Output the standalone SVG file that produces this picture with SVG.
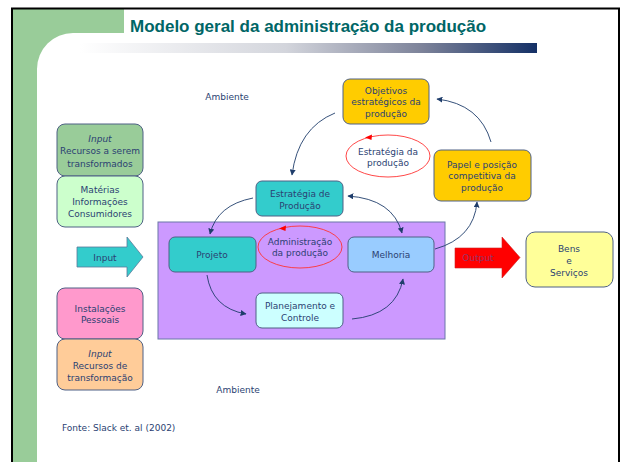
<svg xmlns="http://www.w3.org/2000/svg" width="621" height="462" viewBox="0 0 621 462">
<defs>
<linearGradient id="bar" x1="0" y1="0" x2="1" y2="0">
<stop offset="0" stop-color="#ffffff"/>
<stop offset="0.45" stop-color="#d3d5dc"/>
<stop offset="0.75" stop-color="#7c8299"/>
<stop offset="1" stop-color="#143066"/>
</linearGradient>
<marker id="ah" viewBox="0 0 10 10" refX="9" refY="5" markerWidth="6" markerHeight="6" orient="auto-start-reverse" markerUnits="userSpaceOnUse">
<path d="M0,0 L10,5 L0,10 Z" fill="#1f3d6b"/>
</marker>
<style>
.t{font-family:"DejaVu Sans","Liberation Sans",sans-serif;font-size:9px;fill:#2b3f72;text-anchor:middle}
.i{font-style:italic}
.n{stroke:#4f6185;stroke-width:1}
.c{fill:none;stroke:#1f3d6b;stroke-width:0.9}
.r{fill:none;stroke:#ff3333;stroke-width:0.9}
</style>
</defs>
<rect width="621" height="462" fill="#ffffff"/>
<g id="frame">
<path d="M13 9 H124 V33 H73 A36 36 0 0 0 37 69 V462 H13 Z" fill="#99cc99"/>
<path d="M12 462 V8.5 H619 V462" fill="none" stroke="#000" stroke-width="2"/>
<rect x="80" y="43" width="457" height="10" fill="url(#bar)"/>
<text x="130" y="32" style="font-family:'Liberation Sans',Arial,sans-serif;font-size:17px;font-weight:bold;fill:#006666">Modelo geral da administração da produção</text>
</g>
<g id="purple"><rect x="158" y="222" width="287" height="117" fill="#cc99ff" stroke="#6b77a8" stroke-width="1"/></g>
<g id="ambiente1"><text class="t" x="227" y="100">Ambiente</text></g>
<g id="ambiente2"><text class="t" x="238" y="393">Ambiente</text></g>
<g id="fonte"><text class="t" x="62" y="431" style="text-anchor:start">Fonte: Slack et. al (2002)</text></g>
<g id="input-transformados">
<rect class="n" x="57" y="124" width="86" height="52" rx="8" fill="#99cc99"/>
<text class="t i" x="100" y="141.5">Input</text>
<text class="t" x="100" y="154">Recursos a serem</text>
<text class="t" x="100" y="166.5">transformados</text>
</g>
<g id="materias">
<rect class="n" x="57" y="176" width="86" height="51" rx="8" fill="#ccffcc"/>
<text class="t" x="100" y="192.5">Matérias</text>
<text class="t" x="100" y="204.5">Informações</text>
<text class="t" x="100" y="216.5">Consumidores</text>
</g>
<g id="input-arrow">
<path d="M77 247 H127 V237 L143 257 L127 277 V267 H77 Z" fill="#33cccc" stroke="#5a7a9a" stroke-width="0.8"/>
<text class="t" x="105" y="261">Input</text>
</g>
<g id="instalacoes">
<rect class="n" x="57" y="288" width="86" height="51" rx="8" fill="#ff99cc"/>
<text class="t" x="100" y="311.5">Instalações</text>
<text class="t" x="100" y="323">Pessoais</text>
</g>
<g id="input-transformacao">
<rect class="n" x="57" y="339" width="86" height="51" rx="8" fill="#ffcc99"/>
<text class="t i" x="100" y="356.5">Input</text>
<text class="t" x="100" y="368.5">Recursos de</text>
<text class="t" x="100" y="380.5">transformação</text>
</g>
<g id="objetivos">
<rect class="n" x="343" y="79" width="86" height="45" rx="7" fill="#ffcc00"/>
<text class="t" x="386" y="93.5">Objetivos</text>
<text class="t" x="386" y="105">estratégicos da</text>
<text class="t" x="386" y="116.5">produção</text>
</g>
<g id="papel">
<rect class="n" x="434" y="150" width="97" height="51" rx="7" fill="#ffcc00"/>
<text class="t" x="482" y="167.5">Papel e posição</text>
<text class="t" x="482" y="179">competitiva da</text>
<text class="t" x="482" y="190.5">produção</text>
</g>
<g id="estrategia-producao-loop">
<ellipse class="r" cx="388" cy="156" rx="42" ry="21"/>
<path d="M365 137.5 L372 134.5 L371.5 140 Z" fill="#ff0000"/>
<text class="t" x="388" y="154.5">Estratégia da</text>
<text class="t" x="388" y="166">produção</text>
</g>
<g id="estrategia">
<rect class="n" x="256" y="181" width="87" height="35" rx="6" fill="#33cccc"/>
<text class="t" x="300" y="196.5">Estratégia de</text>
<text class="t" x="300" y="208.5">Produção</text>
</g>
<g id="projeto">
<rect class="n" x="169" y="237" width="87" height="35" rx="6" fill="#33cccc"/>
<text class="t" x="212" y="257.5">Projeto</text>
</g>
<g id="melhoria">
<rect class="n" x="348" y="237" width="86" height="35" rx="6" fill="#99ccff"/>
<text class="t" x="391" y="257.5">Melhoria</text>
</g>
<g id="planejamento">
<rect class="n" x="256" y="293" width="87" height="35" rx="6" fill="#ccffff"/>
<text class="t" x="300" y="308.5">Planejamento e</text>
<text class="t" x="300" y="320.5">Controle</text>
</g>
<g id="administracao">
<ellipse class="r" cx="300" cy="247" rx="42" ry="21"/>
<path d="M279 228.5 L286 225.5 L285.5 231 Z" fill="#ff0000"/>
<text class="t" x="300" y="244.5">Administração</text>
<text class="t" x="300" y="255.5">da produção</text>
</g>
<g id="output-arrow">
<path d="M455 248 H502 V237 L520 257.5 L502 278 V268 H455 Z" fill="#ff0000" stroke="#cc2222" stroke-width="0.6"/>
<text class="t" x="478" y="261" style="fill:#993366">Output</text>
</g>
<g id="bens">
<rect class="n" x="526" y="232" width="87" height="55" rx="9" fill="#ffff99"/>
<text class="t" x="569" y="251.5">Bens</text>
<text class="t" x="569" y="263.5">e</text>
<text class="t" x="569" y="275.5">Serviços</text>
</g>
<g id="connectors">
<path class="c" d="M491 142 Q480 104 437 99" marker-end="url(#ah)"/>
<path class="c" d="M335 113 Q298 128 292 175" marker-end="url(#ah)"/>
<path class="c" d="M253 198 Q217 205 210 234" marker-end="url(#ah)"/>
<path class="c" d="M348 196 Q393 199 402 233" marker-start="url(#ah)" marker-end="url(#ah)"/>
<path class="c" d="M207 275 Q212 308 246 314" marker-end="url(#ah)"/>
<path class="c" d="M352 319 Q396 315 403 279" marker-end="url(#ah)"/>
<path class="c" d="M435 249 Q474 238 477 202" marker-end="url(#ah)"/>
</g>
</svg>
